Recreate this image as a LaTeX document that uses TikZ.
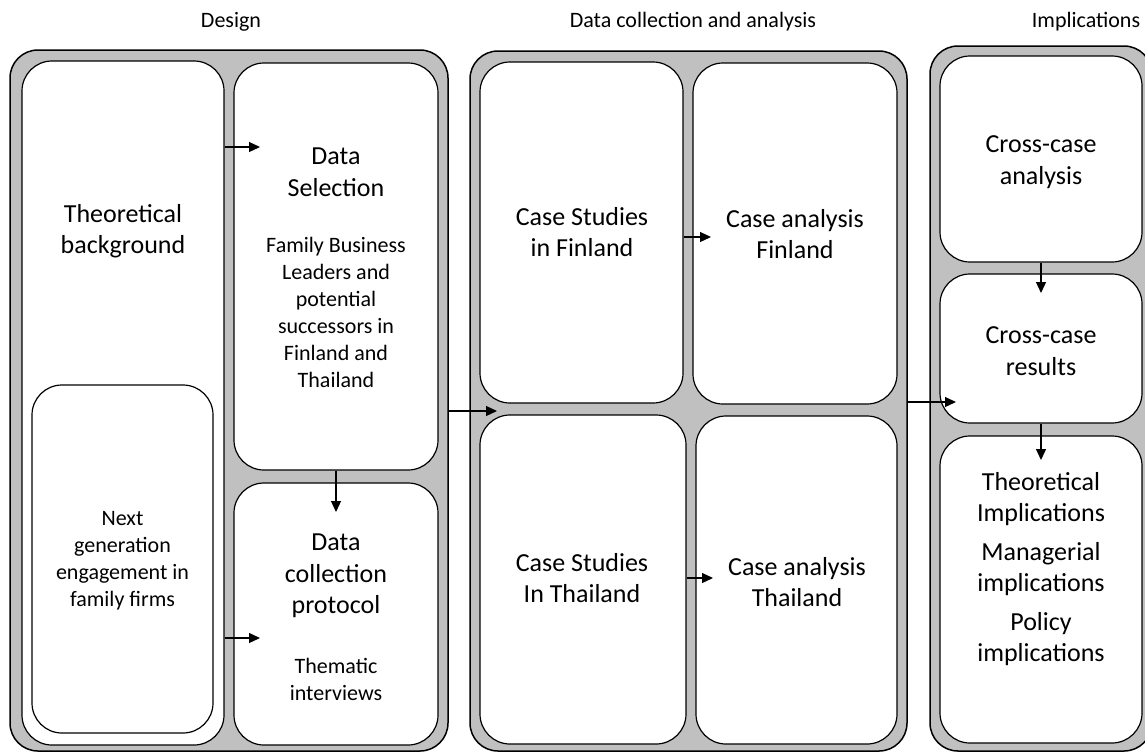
\documentclass[tikz,border=0pt]{standalone}
\usepackage{fontspec}
\setmainfont{Carlito}
\usetikzlibrary{arrows.meta}
\definecolor{panelgrey}{RGB}{192,192,192}
\tikzset{
  panel/.style={draw, fill=panelgrey, line width=1.5pt, rounded corners=28pt, inner sep=0pt},
  inbox/.style={draw, fill=white, line width=1.2pt, rounded corners=30pt, inner sep=0pt},
  bigtxt/.style={align=center, font=\fontsize{26}{31.5}\selectfont},
  smalltxt/.style={align=center, font=\fontsize{22}{27}\selectfont},
  headtxt/.style={font=\fontsize{22}{26}\selectfont},
  arr/.style={-{Triangle[length=11pt,width=10pt]}, line width=1.2pt},
}
\begin{document}
\begin{tikzpicture}[x=1pt, y=-1pt]
  \useasboundingbox (0,0) rectangle (1145,753);

  % headings
  \node[headtxt] (hdesign) at (231,22) {Design};
  \node[headtxt] (hdca) at (693,22) {Data collection and analysis};
  \node[headtxt] (himpl) at (1086,22) {Implications};

  % grey panels
  \node[panel, minimum width=438, minimum height=701] (design) at (229,400.5) {};
  \node[panel, minimum width=437, minimum height=700] (dca) at (688.5,401) {};
  \node[panel, minimum width=222, minimum height=705] (impl) at (1041,398.5) {};

  % design
  \node[inbox, minimum width=202, minimum height=684] (theory) at (123,403) {};
  \node[inbox, minimum width=181, minimum height=348] (nextgen) at (122.5,559) {};
  \node[inbox, minimum width=204, minimum height=407] (dsel) at (336,266.5) {};
  \node[inbox, minimum width=204, minimum height=262] (dcoll) at (336,614) {};
  \node[bigtxt] (theorytxt) at (123,231) {Theoretical\\background};
  \node[smalltxt] (nextgentxt) at (122.5,561) {Next\\generation\\engagement in\\family firms};
  \node[bigtxt] (dseltitle) at (336,172) {Data\\Selection};
  \node[smalltxt] (dseltxt) at (336,312) {Family Business\\Leaders and\\potential\\successors in\\Finland and\\Thailand};
  \node[bigtxt] (dcolltitle) at (336,576) {Data\\collection\\protocol};
  \node[smalltxt] (dcolltxt) at (336,679) {Thematic\\interviews};

  % data collection and analysis
  \node[inbox, minimum width=203, minimum height=341] (csfin) at (581.5,232.5) {};
  \node[inbox, minimum width=204, minimum height=341] (cafin) at (795,233.5) {};
  \node[inbox, minimum width=206, minimum height=329] (csth) at (583,579.5) {};
  \node[inbox, minimum width=201, minimum height=328] (cath) at (796.5,580) {};
  \node[bigtxt] (csfintxt) at (582,232) {Case Studies\\in Finland};
  \node[bigtxt] (cafintxt) at (795,234) {Case analysis\\Finland};
  \node[bigtxt] (csthtxt) at (582,578) {Case Studies\\In Thailand};
  \node[bigtxt] (caththtxt) at (797,582) {Case analysis\\Thailand};

  % implications
  \node[inbox, minimum width=202, minimum height=206] (ccana) at (1041,159) {};
  \node[inbox, minimum width=202, minimum height=149] (ccres) at (1041,348.5) {};
  \node[inbox, minimum width=202, minimum height=307] (implic) at (1041,589.5) {};
  \node[bigtxt] (ccanatxt) at (1041,162) {Cross-case\\analysis};
  \node[bigtxt] (ccrestxt) at (1041,351) {Cross-case\\results};
  \node[bigtxt] (theoimp) at (1041,499) {Theoretical\\Implications};
  \node[bigtxt] (manimp) at (1041,569) {Managerial\\implications};
  \node[bigtxt] (polimp) at (1041,639) {Policy\\implications};

  % arrows
  \coordinate (t1) at (260,147);
  \coordinate (t2) at (260,638);
  \coordinate (t3) at (336,512);
  \coordinate (t4) at (497,411);
  \coordinate (t5) at (711,237);
  \coordinate (t6) at (713,578);
  \coordinate (t7) at (956,402);
  \coordinate (t8) at (1041,293);
  \coordinate (t9) at (1041,460);
  \draw[arr] (t1 -| theory.east) -- (t1);
  \draw[arr] (t2 -| theory.east) -- (t2);
  \draw[arr] (dsel.south) -- (t3);
  \draw[arr] (t4 -| design.east) -- (t4);
  \draw[arr] (t5 -| csfin.east) -- (t5);
  \draw[arr] (t6 -| csth.east) -- (t6);
  \draw[arr] (t7 -| dca.east) -- (t7);
  \draw[arr] (ccana.south) -- (t8);
  \draw[arr] (ccres.south) -- (t9);
\end{tikzpicture}
\end{document}
